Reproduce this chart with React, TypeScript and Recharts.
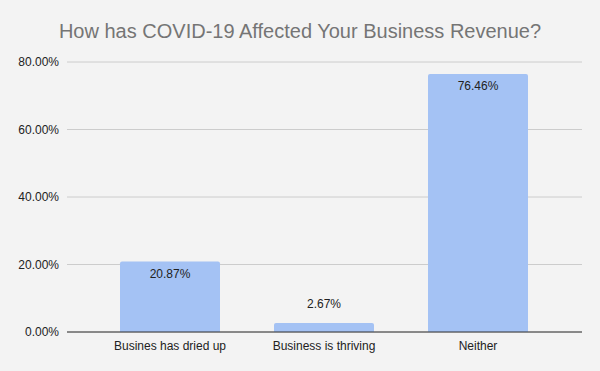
import React from "react";
import { BarChart, Bar, XAxis, YAxis, CartesianGrid, LabelList } from "recharts";

const categories = ["Busines has dried up", "Business is thriving", "Neither"];
const revenueShare = [20.87, 2.67, 76.46];
const yTicks = [0, 20, 40, 60, 80];

const data = categories.map((name, i) => ({ name, value: revenueShare[i] }));

const FONT = "'Liberation Sans', Arial, sans-serif";

// label sits inside the top of the bar when it fits, above it otherwise
function BarValueLabel(props: any) {
  const { x, y, width, height, value } = props;
  const inside = height > 24;
  const ty = inside ? y + 12 : y - 19;
  return (
    <text
      x={x + width / 2}
      y={ty}
      textAnchor="middle"
      dominantBaseline="central"
      fontSize={12}
      fontFamily={FONT}
      fill="#222"
    >
      {Number(value).toFixed(2)}%
    </text>
  );
}

export default function App() {
  return (
    <div
      style={{
        position: "absolute",
        left: 0,
        top: 0,
        width: 600,
        height: 371,
        background: "#f3f3f3",
        fontFamily: FONT,
      }}
    >
      <div
        style={{
          position: "absolute",
          top: 20,
          left: 0,
          width: 600,
          textAlign: "center",
          fontSize: 20,
          color: "#757575",
        }}
      >
        How has COVID-19 Affected Your Business Revenue?
      </div>
      <BarChart
        width={600}
        height={371}
        data={data}
        margin={{ top: 62, right: 18, bottom: 9, left: 0 }}
        barSize={100}
      >
        <CartesianGrid vertical={false} stroke="#cccccc" />
        <XAxis
          dataKey="name"
          padding={{ left: 26, right: 27 }}
          axisLine={{ stroke: "#333" }}
          tickLine={false}
          tickMargin={3}
          height={30}
          tick={{ fontSize: 12, fill: "#222", fontFamily: FONT }}
        />
        <YAxis
          domain={[0, 80]}
          ticks={yTicks}
          width={67}
          axisLine={false}
          tickLine={false}
          tickFormatter={(v: number) => v.toFixed(2) + "%"}
          tick={{ fontSize: 12, fill: "#222", fontFamily: FONT }}
        />
        <Bar dataKey="value" fill="#a4c2f4" radius={[2, 2, 0, 0]} isAnimationActive={false}>
          <LabelList dataKey="value" content={BarValueLabel} />
        </Bar>
      </BarChart>
    </div>
  );
}
